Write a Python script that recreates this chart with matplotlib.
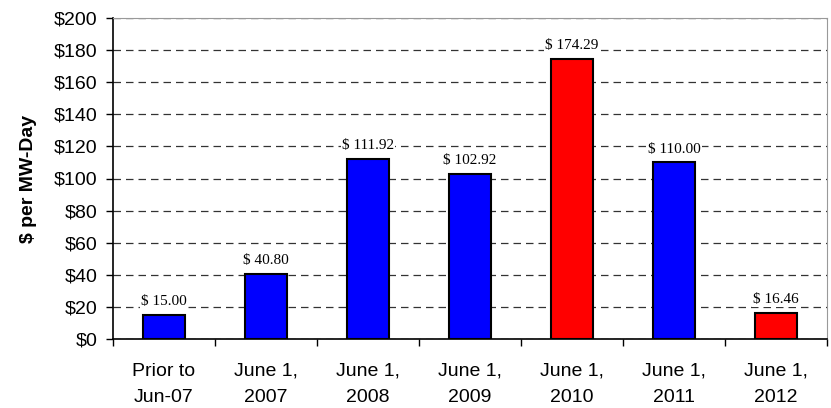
import matplotlib
matplotlib.use("Agg")
import matplotlib.pyplot as plt

categories = ["Prior to\nJun-07", "June 1,\n2007", "June 1,\n2008", "June 1,\n2009",
              "June 1,\n2010", "June 1,\n2011", "June 1,\n2012"]
prices = [15.00, 40.80, 111.92, 102.92, 174.29, 110.00, 16.46]
colors = ["#0000ff", "#0000ff", "#0000ff", "#0000ff", "#ff0000", "#0000ff", "#ff0000"]

plt.rcParams["font.family"] = ["Liberation Sans", "DejaVu Sans"]

fig = plt.figure(figsize=(8.31, 4.08), dpi=100)
ax = fig.add_axes([113 / 831, 1 - 339 / 408, 714 / 831, 321 / 408])

x = list(range(len(categories)))
ax.bar(x, prices, width=0.42, color=colors, edgecolor="black", linewidth=1.5, zorder=3)

for xi, v in zip(x, prices):
    ax.annotate(f"$ {v:.2f}", (xi, v), textcoords="offset points", xytext=(0, 5),
                ha="center", va="bottom", fontsize=11, family="Liberation Serif",
                bbox=dict(facecolor="white", edgecolor="none", pad=1), zorder=4)

ax.set_xlim(-0.5, len(categories) - 0.5)
ax.set_ylim(0, 200)
ax.set_yticks(range(0, 201, 20))
ax.yaxis.set_major_formatter(lambda v, _: f"${v:.0f}")
ax.set_xticks(x)
ax.set_xticklabels(categories, fontsize=14, linespacing=1.7)
ax.set_xticks([i - 0.5 for i in range(len(categories) + 1)], minor=True)
ax.tick_params(axis="x", which="major", length=0, pad=17)
ax.tick_params(axis="x", which="minor", length=5, width=1, direction="out")
ax.tick_params(axis="y", labelsize=14, length=5, width=1, direction="out", pad=6)

ax.grid(axis="y", linestyle=(0, (6, 4)), color="#333333", linewidth=0.9, zorder=0)
ax.set_ylabel("$ per MW-Day", fontsize=14, fontweight="bold", labelpad=12)

ax.spines["left"].set_linewidth(1.2)
ax.spines["bottom"].set_linewidth(1.2)
ax.spines["top"].set_color("#999999")
ax.spines["right"].set_color("#999999")

plt.savefig("out.png", dpi=100)
plt.close()
